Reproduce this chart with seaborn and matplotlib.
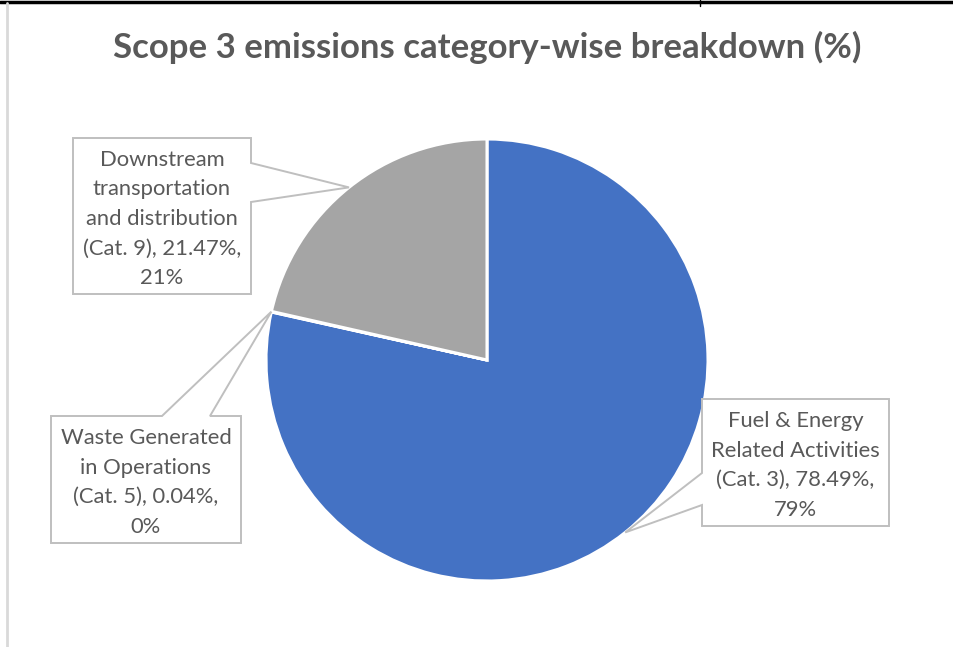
import numpy as np
import matplotlib
matplotlib.use("Agg")
import matplotlib.pyplot as plt
from matplotlib.patches import Polygon
from matplotlib.lines import Line2D
import seaborn as sns

# data
categories = ["Fuel & Energy\nRelated Activities\n(Cat. 3)",
              "Waste Generated\nin Operations\n(Cat. 5)",
              "Downstream\ntransportation\nand distribution\n(Cat. 9)"]
values = [78.49, 0.04, 21.47]
pct_labels = ["79%", "0%", "21%"]
colors = ["#4472C4", "#ED7D31", "#A5A5A5"]

title = "Scope 3 emissions category-wise breakdown (%)"

sns.set_theme(style="white")
plt.rcParams["font.family"] = ["Lato", "DejaVu Sans"]

W, H = 954, 647
fig = plt.figure(figsize=(W / 100, H / 100), dpi=100)
ax = fig.add_axes([0, 0, 1, 1])

cx, cy, r = 487, H - 360, 221
wedges, _ = ax.pie(values, colors=colors, startangle=90, counterclock=False,
                   center=(cx, cy), radius=r, frame=True,
                   wedgeprops=dict(edgecolor="white", linewidth=2.2))
ax.set_xlim(0, W)
ax.set_ylim(0, H)
ax.set_aspect("equal")
ax.axis("off")

# callout boxes: (x0, top, x1, bottom) in pixels, pointer side and pointer span
boxes = [
    ((702, 399, 889, 526), "left", (473, 505)),
    ((51, 416, 241, 543), "top", (162, 210)),
    ((73, 138, 251, 294), "right", (163, 202)),
]

text_color = "#595959"
for w, cat, val, pl, (box, side, span) in zip(wedges, categories, values, pct_labels, boxes):
    ang = np.deg2rad((w.theta1 + w.theta2) / 2)
    tip = (cx + r * np.cos(ang), cy + r * np.sin(ang))
    x0, t, x1, b = box
    t, b = H - t, H - b
    if side == "left":
        p1, p2 = H - span[0], H - span[1]
        pts = [(x0, t), (x1, t), (x1, b), (x0, b), (x0, p2), tip, (x0, p1)]
    elif side == "right":
        p1, p2 = H - span[0], H - span[1]
        pts = [(x0, t), (x1, t), (x1, p1), tip, (x1, p2), (x1, b), (x0, b)]
    else:
        pts = [(x0, t), (span[0], t), tip, (span[1], t), (x1, t), (x1, b), (x0, b)]
    ax.add_patch(Polygon(pts, closed=True, facecolor="white",
                         edgecolor="#BFBFBF", linewidth=1.4, zorder=3))
    label = f"{cat}, {val:.2f}%,\n{pl}"
    ax.text((x0 + x1) / 2, (t + b) / 2 - 3, label, ha="center", va="center",
            fontsize=15.8, color=text_color, linespacing=1.6, zorder=4)

ax.text(487, H - 47, title, ha="center", va="center", fontsize=25,
        fontweight="bold", color=text_color)

# frame lines
fig.add_artist(Line2D([0, 1], [1 - 1.5 / H, 1 - 1.5 / H], color="black", linewidth=2.5))
fig.add_artist(Line2D([700 / W, 700 / W], [1, 1 - 6 / H], color="black", linewidth=1))
fig.add_artist(Line2D([7 / W, 7 / W], [1 - 3 / H, 0], color="#D9D9D9", linewidth=2))

fig.savefig("out.png", dpi=100)
